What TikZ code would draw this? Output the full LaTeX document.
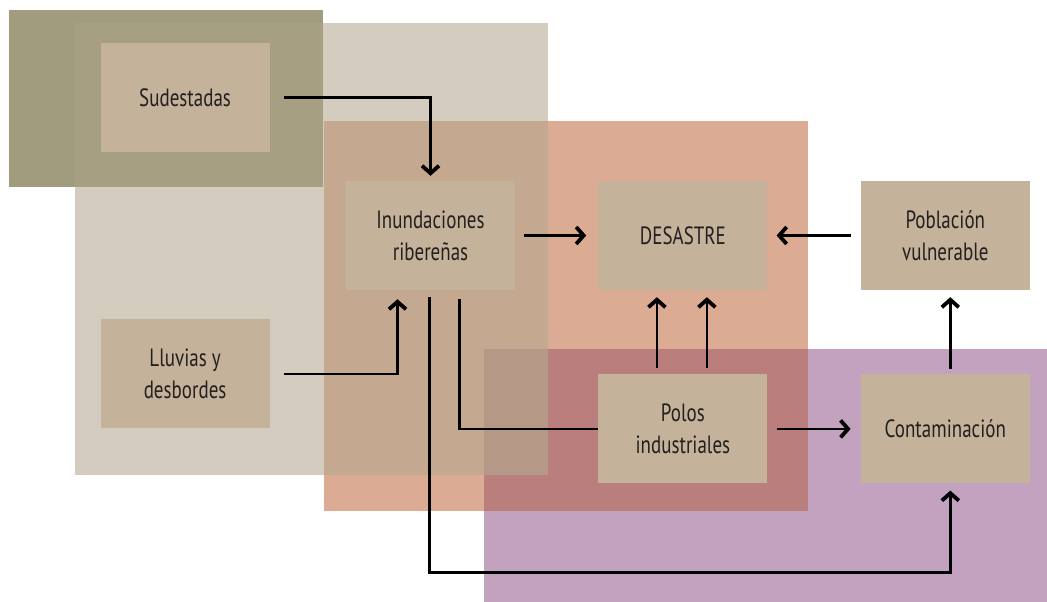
\documentclass[tikz,border=0pt]{standalone}
\usepackage{fontspec}
\setmainfont{PT Sans}[FakeStretch=0.76]
\usetikzlibrary{arrows.meta,positioning}
\definecolor{olive}{HTML}{A19C7E}
\definecolor{olivebeige}{HTML}{A69F82}
\definecolor{beige}{HTML}{D3CCBF}
\definecolor{salmon}{HTML}{DBAB93}
\definecolor{salmonbeige}{HTML}{C4A890}
\definecolor{lilac}{HTML}{C3A2C0}
\definecolor{rose}{HTML}{BA7F7D}
\definecolor{rosebeige}{HTML}{B59886}
\definecolor{boxtan}{HTML}{C4B39A}
\definecolor{ink}{HTML}{231F20}

\begin{document}
\begin{tikzpicture}[x=1pt,y=-1pt,>={Straight Barb[length=7.5pt,width=17pt,line width=3.8pt]},
  box/.style={fill=boxtan,minimum width=169pt,minimum height=109pt,inner sep=0pt,
    align=center,text=ink,font=\fontsize{25}{32}\selectfont},
  link/.style={line width=2.4pt}]
\useasboundingbox (0,0) rectangle (1047,602);
% zones
\fill[beige] (75,23) rectangle (548,475);
\fill[olive] (9,10) rectangle (323,187);
\fill[olivebeige] (75,23) rectangle (323,187);
\fill[salmon] (324,121) rectangle (808,511);
\fill[salmonbeige] (324,121) rectangle (548,475);
\fill[lilac] (484,349) rectangle (1047,602);
\fill[rose] (484,349) rectangle (808,511);
\fill[rosebeige] (484,349) rectangle (548,475);
% boxes
\node[box] (inu) at (430.5,235.5) {Inundaciones\\ribereñas};
\node[box,right=83pt of inu] (des) {DESASTRE};
\node[box,right=93pt of des] (pob) {Población\\vulnerable};
\node[box,below=84pt of des] (pol) {Polos\\industriales};
\node[box,below=84pt of pob] (con) {Contaminación};
\node[box,left=76pt of inu,yshift=138pt] (sud) {Sudestadas};
\node[box,below=167pt of sud] (llu) {Lluvias y\\desbordes};
% links
\draw[link,->] ([xshift=14pt]sud.east) -| ([yshift=5pt]inu.north);
\draw[link,->] ([xshift=9pt]inu.east) -- ([xshift=-12pt]des.west);
\draw[link,->] ([xshift=-10pt]pob.west) -- ([xshift=9pt]des.east);
\draw[link,->] ([xshift=14pt]llu.east) -| ([xshift=-33pt,yshift=-9pt]inu.south);
\draw[link,->] ([xshift=-1pt,yshift=-7pt]inu.south) |- ([xshift=5pt,yshift=-89pt]con.south)
  -- ([xshift=5pt,yshift=-7pt]con.south);
\draw[link] ([xshift=29pt,yshift=-9pt]inu.south) |- (pol.west);
\foreach \dx in {-26,24}
  \draw[link,->] ([xshift=\dx pt,yshift=6pt]pol.north) -- ([xshift=\dx pt,yshift=-7pt]des.south);
\draw[link,->] ([xshift=9pt]pol.east) -- ([xshift=-10pt]con.west);
\draw[link,->] ([xshift=5pt,yshift=5pt]con.north) -- ([xshift=5pt,yshift=-7pt]pob.south);
\end{tikzpicture}
\end{document}
